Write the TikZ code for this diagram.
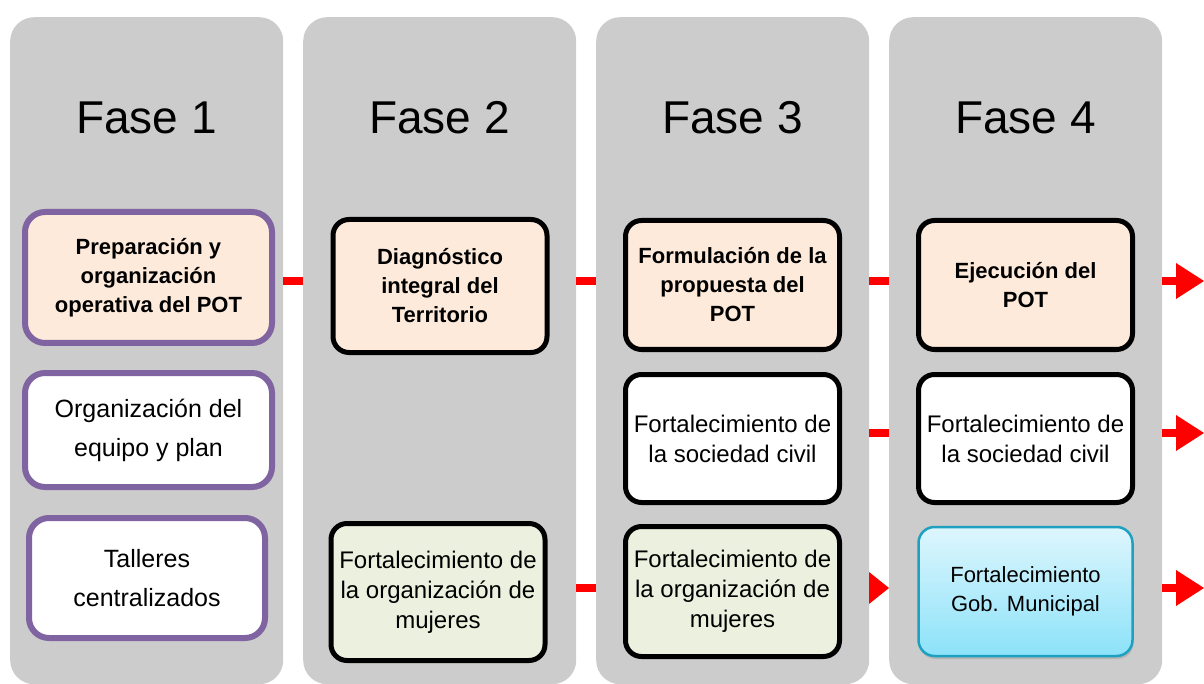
\documentclass[tikz,border=0pt]{standalone}
\usepackage{fontspec}
\setmainfont{Liberation Sans}
\usetikzlibrary{arrows.meta,shadows}
\definecolor{gris}{RGB}{204,204,204}
\definecolor{morado}{RGB}{128,100,162}
\definecolor{durazno}{RGB}{253,234,218}
\definecolor{verde}{RGB}{235,241,222}
\definecolor{celestea}{RGB}{222,246,253}
\definecolor{celesteb}{RGB}{140,226,249}
\definecolor{turquesa}{RGB}{30,160,192}
\tikzset{
	columna/.style={fill=gris,rounded corners=24pt,minimum width=273pt,minimum height=667pt,anchor=north west,inner sep=0pt},
	titulo/.style={font=\fontsize{46}{50}\selectfont},
	caja/.style={draw=black,line width=5pt,rounded corners=16pt,align=center,inner sep=0pt,minimum width=214pt,minimum height=129pt},
	cajam/.style={caja,draw=morado,line width=6pt,rounded corners=20pt,minimum width=247pt},
	negrita/.style={font=\fontsize{22}{29}\selectfont\bfseries},
	normal/.style={font=\fontsize{24}{30}\selectfont},
	grande/.style={font=\fontsize{25}{39}\selectfont},
	barra/.style={draw=red,line width=8pt},
	flecha/.style={barra,-{Triangle[length=28pt,width=36pt,line width=0pt]}},
	punta/.style={barra,-{Triangle[length=20pt,width=32pt,line width=0pt]}}
}
\begin{document}
\begin{tikzpicture}[x=1pt,y=-1pt]
	\useasboundingbox (0,0) rectangle (1204,684);
	\foreach \i in {1,...,4}{
		\node[columna] (fase\i) at ({10+293*(\i-1)},17) {};
		\node[titulo] (t\i) at ({146.5+293*(\i-1)},118) {Fase \i};
	}
	\node[cajam,negrita,fill=durazno,minimum height=131pt] (a1) at (148.5,277.5) {Preparación y\\organización\\operativa del POT};
	\node[cajam,grande,fill=white,minimum height=114pt] (a2) at (148.5,430) {Organización del\\equipo y plan};
	\node[cajam,grande,fill=white,minimum width=236pt,minimum height=120pt] (a3) at (147,578) {Talleres\\centralizados};
	\node[caja,negrita,fill=durazno,minimum height=133pt] (b1) at (440,286) {Diagnóstico\\integral del\\Territorio};
	\node[caja,normal,fill=verde,minimum height=137pt] (b3) at (438,592) {Fortalecimiento de\\la organización de\\mujeres};
	\node[caja,negrita,fill=durazno] (c1) at (732.5,285) {Formulación de la\\propuesta del\\POT};
	\node[caja,normal,fill=white,minimum height=128pt] (c2) at (732.5,438.5) {Fortalecimiento de\\la sociedad civil};
	\node[caja,normal,fill=verde,minimum height=130pt] (c3) at (732.5,591.5) {Fortalecimiento de\\la organización de\\mujeres};
	\node[caja,negrita,fill=durazno] (d1) at (1025.5,285) {Ejecución del\\POT};
	\node[caja,normal,fill=white,minimum height=128pt] (d2) at (1025.5,438.5) {Fortalecimiento de\\la sociedad civil};
	\node[caja,font=\fontsize{22}{29}\selectfont,draw=turquesa,line width=2.5pt,top color=celestea,bottom color=celesteb,
		drop shadow={opacity=0.3,shadow xshift=1pt,shadow yshift=-3pt}] (d3) at (1025.5,591.5) {Fortalecimiento\\Gob. Municipal};
	% conectores
	\coordinate (r1) at (1204,281);
	\coordinate (r2) at (1204,433);
	\coordinate (r3) at (1204,588);
	\draw[barra] (fase1.east |- r1) -- (fase2.west |- r1);
	\draw[barra] (fase2.east |- r1) -- (fase3.west |- r1);
	\draw[barra] (fase3.east |- r1) -- (fase4.west |- r1);
	\draw[flecha] (fase4.east |- r1) -- (r1);
	\draw[barra] (fase3.east |- r2) -- (fase4.west |- r2);
	\draw[flecha] (fase4.east |- r2) -- (r2);
	\draw[barra] (fase2.east |- r3) -- (fase3.west |- r3);
	\draw[punta] (fase3.east |- r3) -- (fase4.west |- r3);
	\draw[flecha] (fase4.east |- r3) -- (r3);
\end{tikzpicture}
\end{document}
